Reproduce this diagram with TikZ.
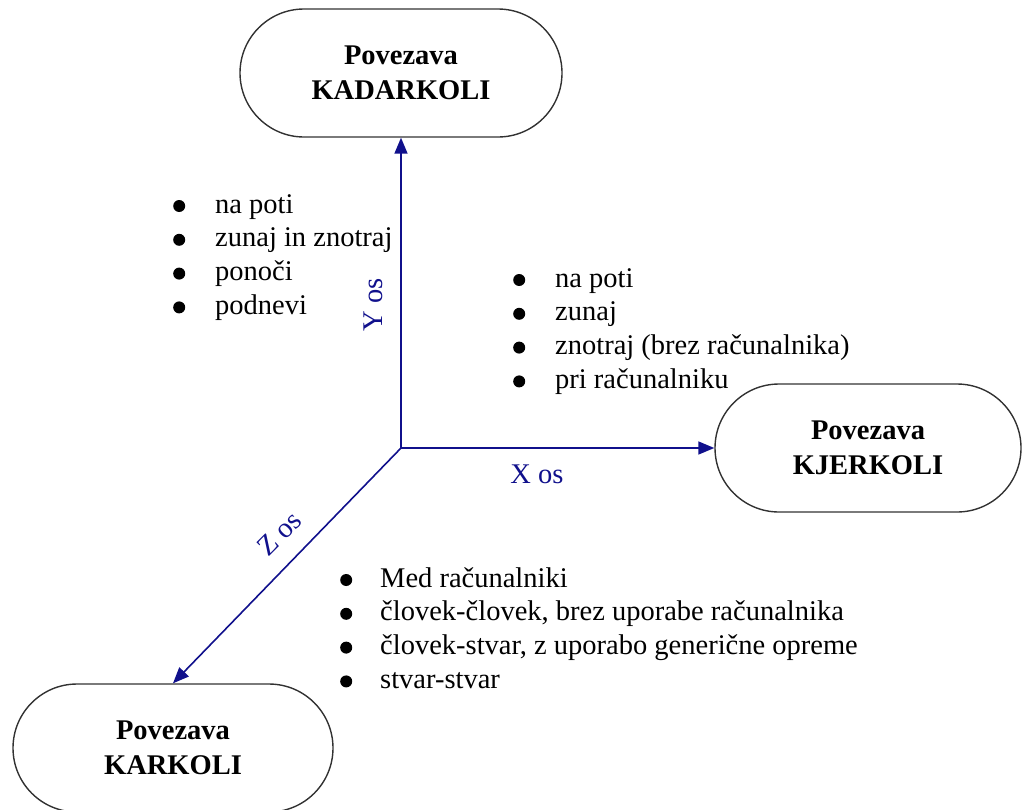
\documentclass[tikz,border=0pt]{standalone}
\usepackage{fontspec}
\setmainfont{Liberation Serif}
\usetikzlibrary{arrows.meta,shapes.misc}
\definecolor{axisblue}{RGB}{16,16,140}
\definecolor{outline}{RGB}{50,50,50}
% list bullet: a filled dot sitting at x-height middle
\newcommand{\listdot}{\tikz[baseline=0pt]\fill (0pt,7pt) circle[radius=6pt];}
\begin{document}
\begin{tikzpicture}[x=1pt,y=-1pt,
  linkbox/.style={rounded rectangle, draw=outline, line width=1.4pt,
    minimum height=128pt, inner sep=0pt, align=center,
    font=\fontsize{28.5}{35}\selectfont\bfseries},
  axis/.style={draw=axisblue, line width=1.6pt,
    -{Triangle[length=16pt,width=13pt]}, fill=axisblue},
  axislabel/.style={text=axisblue, inner sep=0pt, anchor=base,
    font=\fontsize{28.5}{34}\selectfont},
  itemlist/.style={inner sep=0pt, anchor=base west,
    font=\fontsize{28.5}{33.8}\selectfont}]
\useasboundingbox (0,0) rectangle (1022,809);

% the three kinds of connection
\node[linkbox, minimum width=322pt] (kadarkoli) at (401,73) {Povezava\\KADARKOLI};
\node[linkbox, minimum width=306pt] (kjerkoli) at (868,448) {Povezava\\KJERKOLI};
\node[linkbox, minimum width=320pt] (karkoli) at (173,748) {Povezava\\KARKOLI};

% axes
\coordinate (o) at (401,448);
\path[axis] (o) -- (kadarkoli.south);
\path[axis] (o) -- (kjerkoli.west);
\path[axis] (o) -- (karkoli.north);

\node[axislabel, rotate=90] (ylab) at (382,305) {Y os};
\node[axislabel] (xlab) at (537,483) {X os};
\node[axislabel, rotate=45] (zlab) at (286,540) {Z os};

% bullet lists
\node[itemlist] (ylist) at (173,213) {%
  \begin{tabular}[t]{@{}l@{\hspace{30pt}}l@{}}
  \listdot & na poti\\
  \listdot & zunaj in znotraj\\
  \listdot & ponoči\\
  \listdot & podnevi
  \end{tabular}};
\node[itemlist] (xlist) at (513,287) {%
  \begin{tabular}[t]{@{}l@{\hspace{30pt}}l@{}}
  \listdot & na poti\\
  \listdot & zunaj\\
  \listdot & znotraj (brez računalnika)\\
  \listdot & pri računalniku
  \end{tabular}};
\node[itemlist] (zlist) at (340,587) {%
  \begin{tabular}[t]{@{}l@{\hspace{28pt}}l@{}}
  \listdot & Med računalniki\\
  \listdot & človek-človek, brez uporabe računalnika\\
  \listdot & človek-stvar, z uporabo generične opreme\\
  \listdot & stvar-stvar
  \end{tabular}};
\end{tikzpicture}
\end{document}
